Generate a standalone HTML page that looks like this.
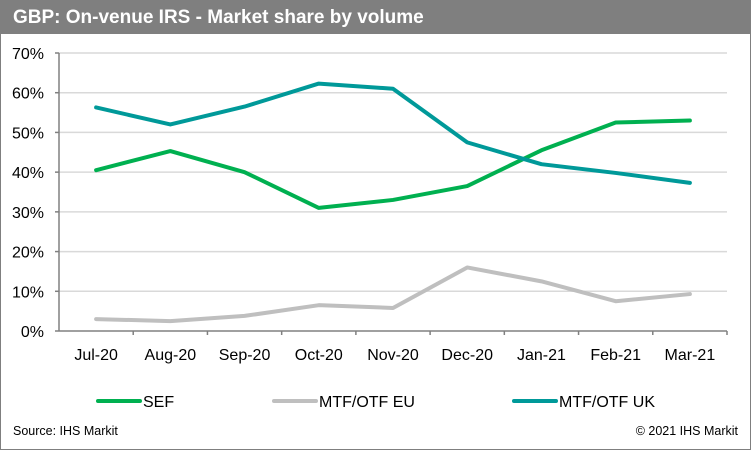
<!DOCTYPE html>
<html><head><meta charset="utf-8"><style>
body{margin:0;width:751px;height:450px;overflow:hidden;background:#fff;font-family:"Liberation Sans",Arial,sans-serif}
#wrap{position:absolute;left:0;top:0;width:749px;height:448px;border:1px solid #7f7f7f;}
#title{position:absolute;left:0;top:0;width:751px;height:34px;background:#7f7f7f;color:#fff;font-weight:bold;font-size:19px;line-height:35px;padding-left:13px;box-sizing:border-box}
svg{position:absolute;left:0;top:0}
</style></head><body>
<div id="wrap"></div>
<div id="title">GBP: On-venue IRS - Market share by volume</div>
<svg id="chart" width="751" height="450"></svg>
<script>
const categories=["Jul-20","Aug-20","Sep-20","Oct-20","Nov-20","Dec-20","Jan-21","Feb-21","Mar-21"];
const sef=[40.5,45.3,40,31,33,36.5,45.5,52.5,53];
const mtfEu=[3,2.5,3.8,6.5,5.8,16,12.5,7.5,9.3];
const mtfUk=[56.3,52,56.5,62.3,61,47.5,42,39.8,37.3];
const yTicks=[0,10,20,30,40,50,60,70];
const NS="http://www.w3.org/2000/svg";
const svg=document.getElementById('chart');
const x0=59,x1=727,y0=331,y70=53;
const cw=(x1-x0)/categories.length;
const xs=i=>x0+cw*(i+0.5);
const ys=v=>y0-(v/70)*(y0-y70);
function el(t,a){const e=document.createElementNS(NS,t);for(const k in a)e.setAttribute(k,a[k]);svg.appendChild(e);return e;}
yTicks.forEach(v=>{
  if(v>0){const g=el('line',{x1:x0,x2:x1,y1:ys(v),y2:ys(v),stroke:'#d9d9d9','stroke-width':1.5});
  
  }
  const tk=el('line',{x1:x0-4,x2:x0,y1:ys(v),y2:ys(v),stroke:'#808080','stroke-width':1.5});
  
  
  const t=el('text',{x:x0-15,y:ys(v)+6,'text-anchor':'end','font-size':16,fill:'#000'});
  t.textContent=v+'%';
  
  
});
const ya=el('line',{x1:x0,x2:x0,y1:y70,y2:y0,stroke:'#808080','stroke-width':1.5});


const xa=el('line',{x1:x0,x2:x1,y1:y0,y2:y0,stroke:'#808080','stroke-width':1.5});


categories.forEach((c,i)=>{
  const tk=el('line',{x1:x0+cw*(i+1),x2:x0+cw*(i+1),y1:y0,y2:y0+4,stroke:'#808080','stroke-width':1.5});
  
  
  const t=el('text',{x:xs(i),y:y0+29,'text-anchor':'middle','font-size':16,fill:'#000'});
  t.textContent=c;
  
  
});
function series(vals,color,name){
  const p=el('polyline',{points:vals.map((v,i)=>xs(i)+','+ys(v)).join(' '),fill:'none',stroke:color,'stroke-width':4,'stroke-linejoin':'round','stroke-linecap':'round'});
  
  
}
series(mtfEu,'#bfbfbf','series-mtf-otf-eu');
series(sef,'#00b050','series-sef');
series(mtfUk,'#009999','series-mtf-otf-uk');
const legend=[["SEF","#00b050",98],["MTF/OTF EU","#bfbfbf",274],["MTF/OTF UK","#009999",514]];
legend.forEach(l=>{
  const ln=el('line',{x1:l[2],x2:l[2]+42,y1:401,y2:401,stroke:l[1],'stroke-width':4,'stroke-linecap':'round'});
  
  
  const t=el('text',{x:l[2]+45,y:407,'font-size':16,fill:'#000'});
  t.textContent=l[0];
  
  
});
const s=el('text',{x:13,y:435,'font-size':12.5,fill:'#000'});s.textContent='Source: IHS Markit';


const c=el('text',{x:738,y:435,'font-size':12.5,fill:'#000','text-anchor':'end'});c.textContent='© 2021 IHS Markit';


</script>
</body></html>
